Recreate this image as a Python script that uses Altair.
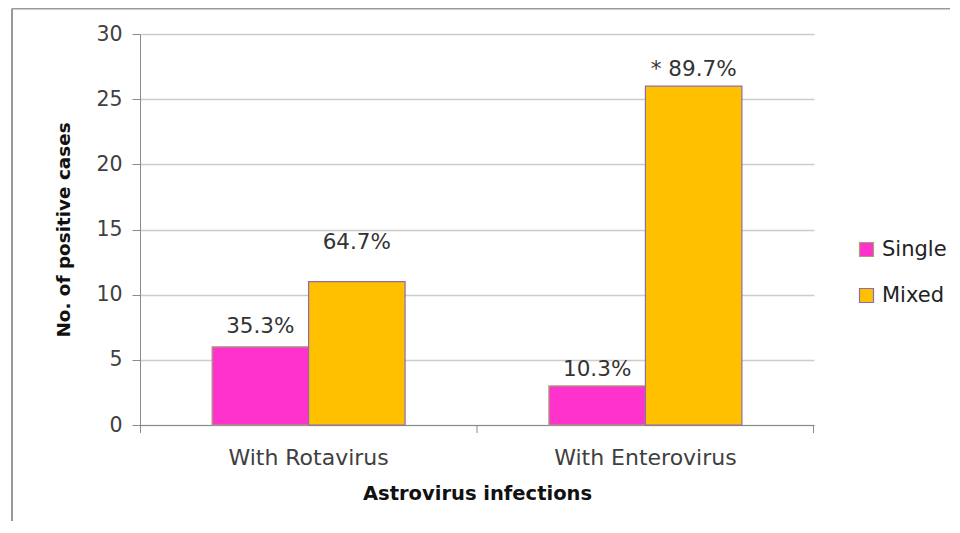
import altair as alt
import pandas as pd

groups = ["With Rotavirus", "With Rotavirus", "With Enterovirus", "With Enterovirus"]
types = ["Single", "Mixed", "Single", "Mixed"]
counts = [6, 11, 3, 26]
labels = ["35.3%", "64.7%", "10.3%", "* 89.7%"]
label_y = [7.5, 14.0, 4.2, 27.2]
group_order = ["With Rotavirus", "With Enterovirus"]
type_order = ["Single", "Mixed"]
fill_colors = ["#FF33CC", "#FFC000"]
stroke_colors = ["#A3A37A", "#8E6BB0"]

df = pd.DataFrame({"group": groups, "type": types, "count": counts,
                   "label": labels, "label_y": label_y})

FONT = "DejaVu Sans"
AXIS_GRAY = "#8a8a8a"

x_enc = alt.X("group:N", sort=group_order,
              scale=alt.Scale(paddingInner=0.427, paddingOuter=0.214),
              axis=alt.Axis(title="Astrovirus infections", labelAngle=0,
                            ticks=False, labelPadding=22, labelLimit=0,
                            titlePadding=16, labelFontSize=22, titleFontSize=19.5,
                            labelFont=FONT, titleFont=FONT, titleFontWeight="bold",
                            labelColor="#404040", titleColor="#111111",
                            domainColor=AXIS_GRAY, grid=False))
xo_enc = alt.XOffset("type:N", sort=type_order,
                     scale=alt.Scale(paddingInner=0, paddingOuter=0))

bars = alt.Chart(df).mark_bar(strokeWidth=1.2).encode(
    x=x_enc,
    xOffset=xo_enc,
    y=alt.Y("count:Q", scale=alt.Scale(domain=[0, 30], nice=False),
            axis=alt.Axis(title="No. of positive cases", values=[0, 5, 10, 15, 20, 25, 30],
                          tickSize=8, labelPadding=10, titlePadding=22,
                          labelFontSize=20.5, titleFontSize=18.4, labelFont=FONT,
                          titleFont=FONT, titleFontWeight="bold",
                          labelColor="#404040", titleColor="#111111",
                          domainColor=AXIS_GRAY, tickColor=AXIS_GRAY,
                          gridColor="#cccccc", gridWidth=1.5)),
    fill=alt.Fill("type:N", sort=type_order,
                  scale=alt.Scale(domain=type_order, range=fill_colors),
                  legend=alt.Legend(title=None, orient="none", legendX=716, legendY=205,
                                    symbolType="square", symbolSize=196,
                                    labelFontSize=21, labelFont=FONT,
                                    labelColor="#222222", rowPadding=24,
                                    labelOffset=5, padding=0, symbolStrokeWidth=1.2)),
    stroke=alt.Stroke("type:N", sort=type_order,
                      scale=alt.Scale(domain=type_order, range=stroke_colors),
                      legend=None),
)

texts = alt.Chart(df).mark_text(fontSize=21.5, font=FONT, color="#333333",
                                baseline="middle", align="center").encode(
    x=alt.X("group:N", sort=group_order),
    xOffset=alt.XOffset("type:N", sort=type_order),
    y=alt.Y("label_y:Q"),
    text="label:N",
)

# category-boundary tick marks on the x axis
xticks = [alt.Chart(df.head(1)).mark_rule(color=AXIS_GRAY, strokeWidth=1).encode(
    x=alt.value(px), y=alt.value(391), y2=alt.value(399)) for px in (0.5, 337, 673.5)]

frame_top = alt.Chart(df.head(1)).mark_rule(color="#9a9a9a", strokeWidth=2).encode(
    x=alt.value(-128), x2=alt.value(900), y=alt.value(-25.5))
frame_left = alt.Chart(df.head(1)).mark_rule(color="#9a9a9a", strokeWidth=2).encode(
    x=alt.value(-128), y=alt.value(-25.5), y2=alt.value(520))

chart = alt.layer(bars, texts, *xticks, frame_top, frame_left).properties(
    width=674, height=391,
    autosize=alt.AutoSizeParams(type="none"),
    padding={"left": 132, "top": 26, "right": 136, "bottom": 96},
).configure_view(stroke=None)

chart.save("out.html", embed_options={"renderer": "svg", "actions": False})
